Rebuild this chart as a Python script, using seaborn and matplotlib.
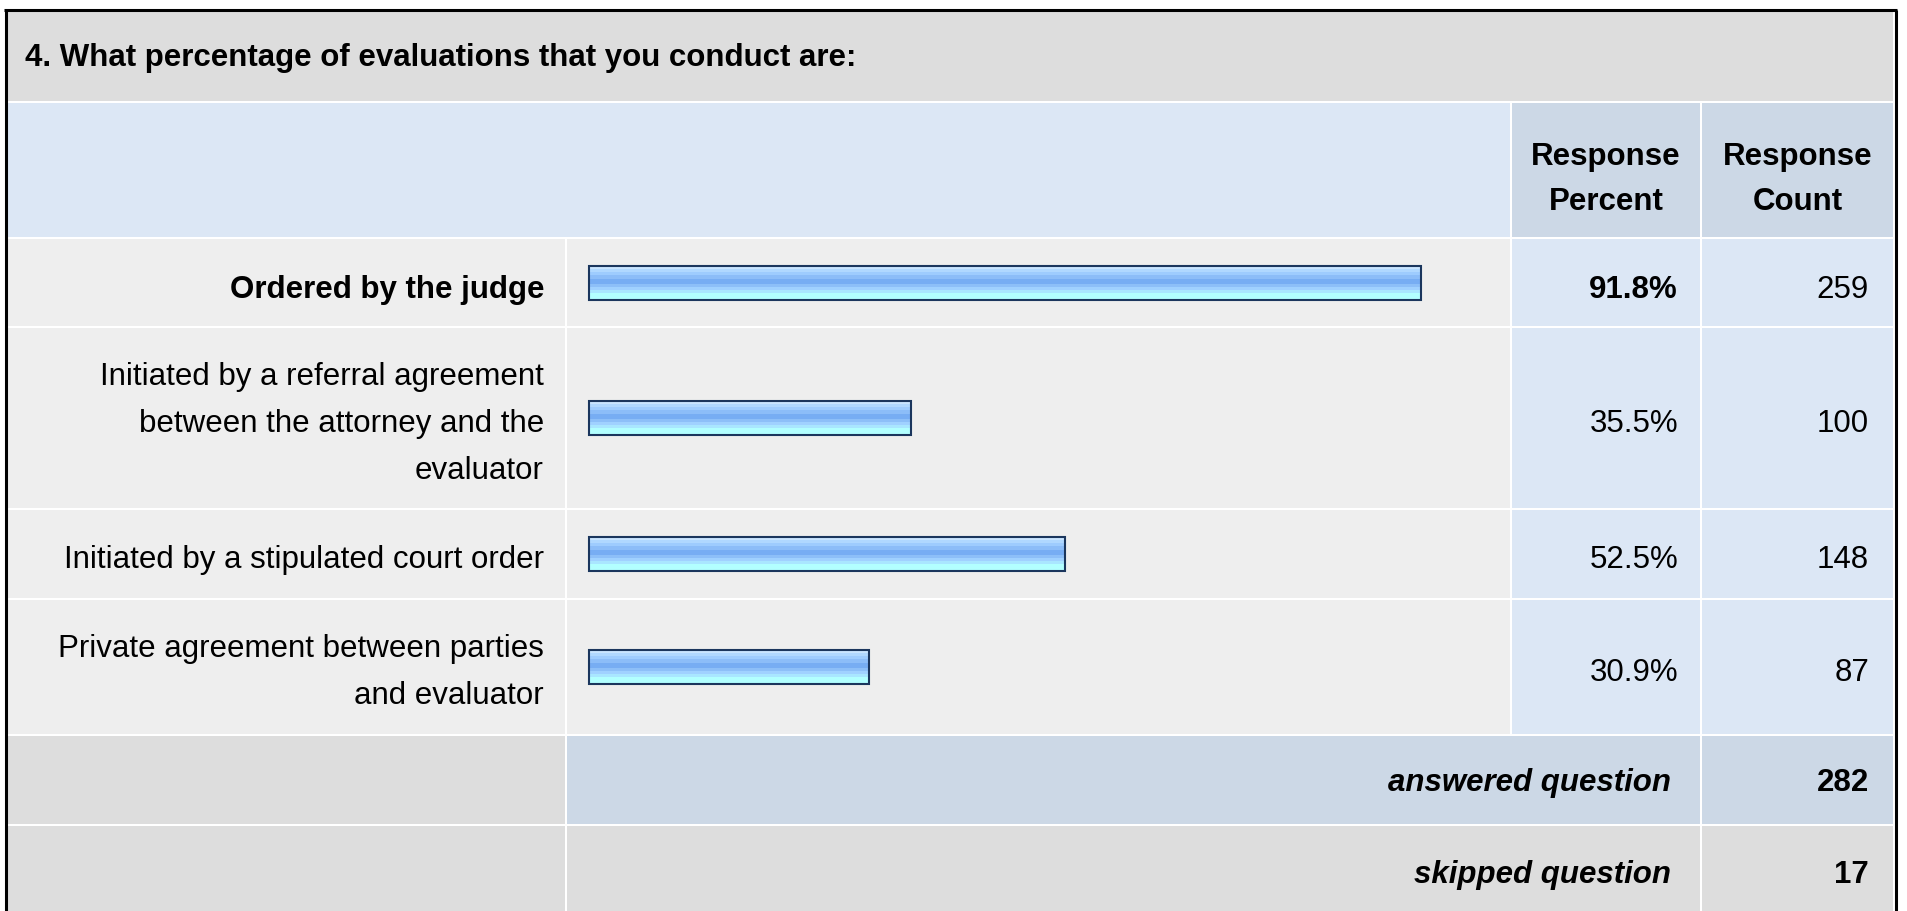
import matplotlib
matplotlib.use("Agg")
import matplotlib.pyplot as plt
import seaborn as sns
import numpy as np
import pandas as pd
from matplotlib.colors import to_rgb

# ---------------- data ----------------
question = "4. What percentage of evaluations that you conduct are:"
answer_options = [
    "Ordered by the judge",
    "Initiated by a referral agreement\nbetween the attorney and the\nevaluator",
    "Initiated by a stipulated court order",
    "Private agreement between parties\nand evaluator",
]
response_percent = [91.8, 35.5, 52.5, 30.9]
response_count = [259, 100, 148, 87]
header_labels = ["Response\nPercent", "Response\nCount"]
summary_labels = ["answered question", "skipped question"]
summary_counts = [282, 17]

df = pd.DataFrame({"option": answer_options, "percent": response_percent,
                   "count": response_count})

# ---------------- layout / style ----------------
sns.set_theme(style="white")
FONT = ["Liberation Sans", "DejaVu Sans"]
plt.rcParams["font.family"] = FONT
plt.rcParams["text.color"] = "black"
FS = 22.5
DY = 5  # text vertical offset (px, downward)

W, H = 1907, 912
GRAY = "#DDDDDD"
LIGHT = "#EEEEEE"
BLUE = "#DCE7F5"
BLUE2 = "#CCD8E6"
EDGE = "#1B365D"

X0, X1, X2, X3, X4, X5, X6, X7 = 7, 565, 567, 1510, 1512, 1700, 1702, 1893
TITLE_ROW = (12, 102)
HEADER_ROW = (104, 238)
DATA_ROWS = [(240, 327), (329, 509), (511, 599), (601, 735)]
DATA_DY = [7, 5, 5, 5]
SUMMARY_ROWS = [(737, 825), (827, 914)]
SUMMARY_DY = [2, 5]
BAR_X0, BAR_SPAN = 589, 906
BAR_H = 34
LINE_PITCH = 47

fig = plt.figure(figsize=(W / 100, H / 100), dpi=100, facecolor="white")
bg = fig.add_axes([0, 0, 1, 1])
bg.set_xlim(0, W)
bg.set_ylim(H, 0)
bg.axis("off")


def cell(x0, y0, x1, y1, color):
    bg.add_patch(plt.Rectangle((x0, y0), x1 - x0, y1 - y0, facecolor=color,
                               edgecolor="none", zorder=1))


def txt(x, y, s, **kw):
    bg.text(x, y, s, va="center", fontsize=FS, color="black", zorder=5, **kw)


def lines_text(x, cy, text, pitch, **kw):
    parts = text.split("\n")
    n = len(parts)
    for i, p in enumerate(parts):
        txt(x, cy + (i - (n - 1) / 2) * pitch, p, **kw)


# title
cell(X0, TITLE_ROW[0], X7, TITLE_ROW[1], GRAY)
txt(25, (TITLE_ROW[0] + TITLE_ROW[1]) / 2 + 1, question, ha="left", fontweight="bold")

# header
cell(X0, HEADER_ROW[0], X3, HEADER_ROW[1], BLUE)
cell(X4, HEADER_ROW[0], X5, HEADER_ROW[1], BLUE2)
cell(X6, HEADER_ROW[0], X7, HEADER_ROW[1], BLUE2)
hcy = (HEADER_ROW[0] + HEADER_ROW[1]) / 2 + 9
lines_text((X4 + X5) / 2, hcy, header_labels[0], 45, ha="center", fontweight="bold")
lines_text((X6 + X7) / 2, hcy, header_labels[1], 45, ha="center", fontweight="bold")

# gradient for bars (top -> bottom)
grad_stops = [("#C9E5FF", 3), ("#B0D8FF", 3), ("#9ECCFE", 3), ("#8CBDF8", 4),
              ("#77ADF3", 5), ("#8DBFF8", 3), ("#A0D1FF", 3), ("#A9E6FF", 3),
              ("#B2FFFF", 7)]
grad = []
for c, n in grad_stops:
    grad += [to_rgb(c)] * n
grad = np.array(grad).reshape(-1, 1, 3)

max_pct = max(response_percent)
for i, (y0, y1) in enumerate(DATA_ROWS):
    cell(X0, y0, X1, y1, LIGHT)
    cell(X2, y0, X3, y1, LIGHT)
    cell(X4, y0, X5, y1, BLUE)
    cell(X6, y0, X7, y1, BLUE)
    cy = (y0 + y1) / 2
    ty = cy + DATA_DY[i]
    row = df.iloc[[i]]
    bold = "bold" if row["percent"].iloc[0] == max_pct else "normal"

    ax = fig.add_axes([BAR_X0 / W, 1 - (cy + BAR_H / 2) / H, BAR_SPAN / W, BAR_H / H])
    sns.barplot(data=row, x="percent", y="option", orient="h", width=1,
                color="#8CBDF8", edgecolor=EDGE, linewidth=1.5, ax=ax)
    ax.set_xlim(0, 100)
    ax.set_ylim(0.5, -0.5)
    ax.axis("off")
    for p in ax.patches:
        x0b, wb = p.get_x(), p.get_width()
        yb, hb = p.get_y(), p.get_height()
        im = ax.imshow(grad, extent=(x0b, x0b + wb, yb + hb, yb), origin="upper",
                       aspect="auto", interpolation="nearest", zorder=1)
        im.set_clip_path(p)
        p.set_facecolor("none")
        p.set_zorder(2)
        p.set_clip_on(False)

    lines_text(544, ty, row["option"].iloc[0], LINE_PITCH, ha="right", fontweight=bold)
    txt(1678, ty, f"{row['percent'].iloc[0]:.1f}%", ha="right", fontweight=bold)
    txt(1869, ty, f"{row['count'].iloc[0]}", ha="right")

# summary rows
sum_colors = [BLUE2, GRAY]
for (y0, y1), dy, lab, cnt, col in zip(SUMMARY_ROWS, SUMMARY_DY, summary_labels,
                                       summary_counts, sum_colors):
    cell(X0, y0, X1, y1, GRAY)
    cell(X2, y0, X5, y1, col)
    cell(X6, y0, X7, y1, col)
    ty = (y0 + y1) / 2 + dy
    txt(1671, ty, lab, ha="right", fontweight="bold", fontstyle="italic")
    txt(1869, ty, str(cnt), ha="right", fontweight="bold")

# outer border
bg.plot([5.5, 5.5], [10.5, H + 5], color="black", lw=2.2, zorder=6, solid_capstyle="butt")
bg.plot([4, 1897], [10.5, 10.5], color="black", lw=2.2, zorder=6, solid_capstyle="butt")
bg.plot([1895.5, 1895.5], [10.5, H + 5], color="black", lw=2.2, zorder=6, solid_capstyle="butt")

fig.savefig("out.png", dpi=100, facecolor="white")
